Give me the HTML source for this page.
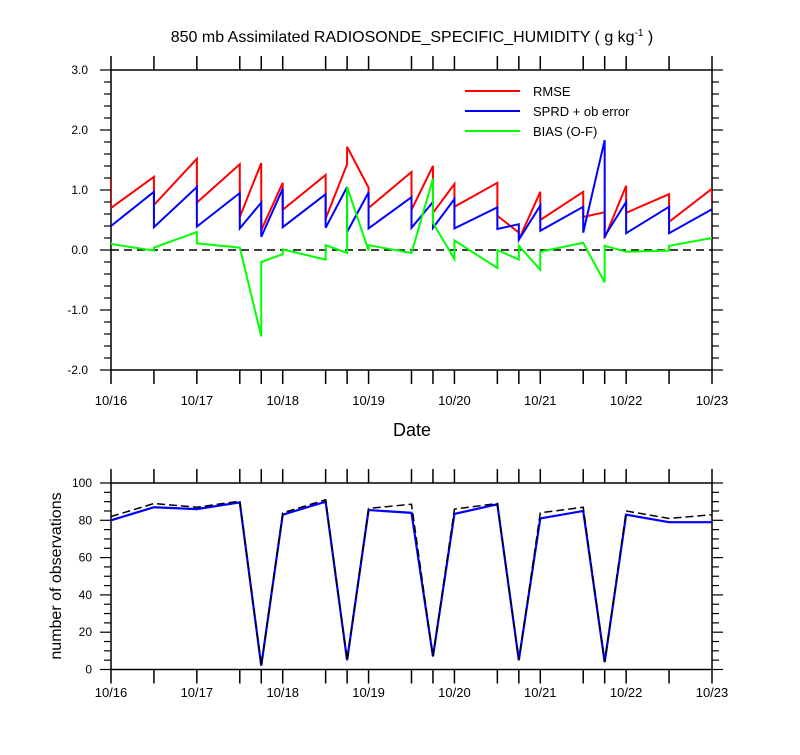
<!DOCTYPE html>
<html><head><meta charset="utf-8"><style>
body{margin:0;background:#fff;}
svg text{font-family:"Liberation Sans",Arial,sans-serif;fill:#000;}
</style></head><body>
<svg id="chart" width="800" height="750" viewBox="0 0 800 750" xmlns="http://www.w3.org/2000/svg">
<defs>
<clipPath id="c1"><rect x="111" y="70" width="601" height="300"/></clipPath>
<clipPath id="c2"><rect x="111" y="483" width="601" height="187"/></clipPath>
</defs>
<text x="412" y="42" font-size="16" text-anchor="middle">850 mb Assimilated RADIOSONDE_SPECIFIC_HUMIDITY ( g kg<tspan font-size="10" dy="-6">-1</tspan><tspan dy="6"> )</tspan></text>
<text x="412" y="436" font-size="18" text-anchor="middle">Date</text>
<text transform="translate(61,576) rotate(-90)" font-size="16" text-anchor="middle">number of observations</text>
<g id="top"></g>
<g id="bot"></g>
<g>
<line x1="465" y1="91" x2="520" y2="91" stroke="#f00" stroke-width="2"/><text x="533" y="96" font-size="13">RMSE</text>
<line x1="465" y1="111" x2="520" y2="111" stroke="#00f" stroke-width="2"/><text x="533" y="116" font-size="13">SPRD + ob error</text>
<line x1="465" y1="131" x2="520" y2="131" stroke="#0f0" stroke-width="2"/><text x="533" y="136" font-size="13">BIAS (O-F)</text>
</g>
</svg>
<script>
const times=[0,0.5,1,1.5,1.75,2,2.5,2.75,3,3.5,3.75,4,4.5,4.75,5,5.5,5.75,6,6.5,7];
const xLabels=["10/16","10/17","10/18","10/19","10/20","10/21","10/22","10/23"];
const rmseEnd=[1.2,1.22,1.52,1.43,1.45,1.12,1.25,1.43,1.04,1.30,1.40,1.10,1.12,0.29,0.97,0.97,0.63,1.07,0.93,1.02];
const rmseStart=[0.7,0.75,0.79,0.55,0.33,0.67,0.52,1.72,0.70,0.67,0.62,0.72,0.57,0.17,0.5,0.55,0.2,0.62,0.47,0.8];
const sprdEnd=[0.4,0.97,1.05,0.95,0.79,1.02,0.93,1.05,0.96,0.88,0.80,0.85,0.71,0.43,0.74,0.72,1.83,0.80,0.72,0.68];
const sprdStart=[0.4,0.38,0.39,0.36,0.22,0.38,0.37,0.30,0.36,0.37,0.37,0.36,0.35,0.17,0.32,0.29,0.23,0.28,0.28,0.68];
const biasEnd=[0.13,-0.01,0.30,0.04,-1.44,-0.07,-0.16,-0.05,-0.01,-0.05,1.19,-0.15,-0.30,-0.16,-0.33,0.12,-0.54,-0.03,-0.01,0.2];
const biasStart=[0.10,0.04,0.11,0.04,-0.2,0.01,0.08,1.05,0.08,-0.05,0.45,0.16,0.0,0.07,-0.03,0.12,0.07,-0.03,0.07,0.2];
const yTicksTop=[3,2,1,0,-1,-2];
const obsUsed=[80,87,86,89.6,2,83,90,5,85.5,84,7,83.4,88.6,5,81,85,4,83,79,79];
const obsTotal=[82,89,87,90.3,2,84,91,5,86.4,88.6,7,86,89,5,84,87,4,85,81,83];
const yTicksBot=[0,20,40,60,80,100];

const NS="http://www.w3.org/2000/svg";
const svg=document.getElementById('chart');
const X=t=>111+t*(601/7);
const YT=v=>250-60*v;
const YB=v=>669.5-1.865*v;
function mk(tag,attrs,parent){const e=document.createElementNS(NS,tag);for(const k in attrs)e.setAttribute(k,attrs[k]);parent.appendChild(e);return e;}
function axes(g,top,bot,ticksY,minorStep,yMin,yMax,Y,fmt,labY,labX){
  mk('rect',{x:111,y:top,width:601,height:bot-top,fill:'none',stroke:'#000','stroke-width':1.5},g);
  times.forEach(t=>{
    const a=mk('line',{x1:X(t),x2:X(t),y1:bot,y2:bot+14,stroke:'#000','stroke-width':1.5},g);
    
    
    const b=mk('line',{x1:X(t),x2:X(t),y1:top,y2:top-14,stroke:'#000','stroke-width':1.5},g);
    
    
  });
  xLabels.forEach((l,i)=>{
    const tx=mk('text',{x:X(i),y:labY,'font-size':13,'text-anchor':'middle'},g);tx.textContent=l;
    
    
  });
  for(let v=yMin;v<=yMax+1e-9;v+=minorStep){
    const major=ticksY.some(m=>Math.abs(m-v)<1e-6);
    const len=major?11:7;
    mk('line',{x1:111-len,x2:111,y1:Y(v),y2:Y(v),stroke:'#000','stroke-width':1.2},g);
    mk('line',{x1:712,x2:712+len,y1:Y(v),y2:Y(v),stroke:'#000','stroke-width':1.2},g);
  }
  ticksY.forEach(v=>{
    const tx=mk('text',{x:labX,y:Y(v)+4,'font-size':12,'text-anchor':'end'},g);tx.textContent=fmt(v);
    
    
  });
}
function sawPath(endA,startA,Y){
  let d='';
  times.forEach((t,i)=>{
    if(i===0){d+=`M${X(t)},${Y(endA[i])} L${X(t)},${Y(startA[i])}`;}
    else{d+=` L${X(t)},${Y(endA[i])} L${X(t)},${Y(startA[i])}`;}
  });
  return d;
}
const gt=document.getElementById('top');
axes(gt,70,370,yTicksTop,0.2,-2,3,YT,v=>v.toFixed(1),405,88);
mk('line',{x1:111,x2:712,y1:YT(0),y2:YT(0),stroke:'#000','stroke-width':1.5,'stroke-dasharray':'8,5'},gt);
const clipT=mk('g',{'clip-path':'url(#c1)'},gt);
[[rmseEnd,rmseStart,'#f00','rmse-line'],[sprdEnd,sprdStart,'#00f','sprd-line'],[biasEnd,biasStart,'#0f0','bias-line']].forEach(s=>{
  const p=mk('path',{d:sawPath(s[0],s[1],YT),fill:'none',stroke:s[2],'stroke-width':2},clipT);
  
  
});
const gb=document.getElementById('bot');
axes(gb,483,669.5,yTicksBot,5,0,100,YB,v=>String(v),697,92);
const clipB=mk('g',{'clip-path':'url(#c2)'},gb);
const lp=a=>a.map((v,i)=>(i?'L':'M')+X(times[i])+','+YB(v)).join(' ');
const pu=mk('path',{d:lp(obsUsed),fill:'none',stroke:'#00f','stroke-width':2.2},clipB);


const pt=mk('path',{d:lp(obsTotal),fill:'none',stroke:'#000','stroke-width':1.5,'stroke-dasharray':'8,4'},clipB);


</script>
</body></html>
